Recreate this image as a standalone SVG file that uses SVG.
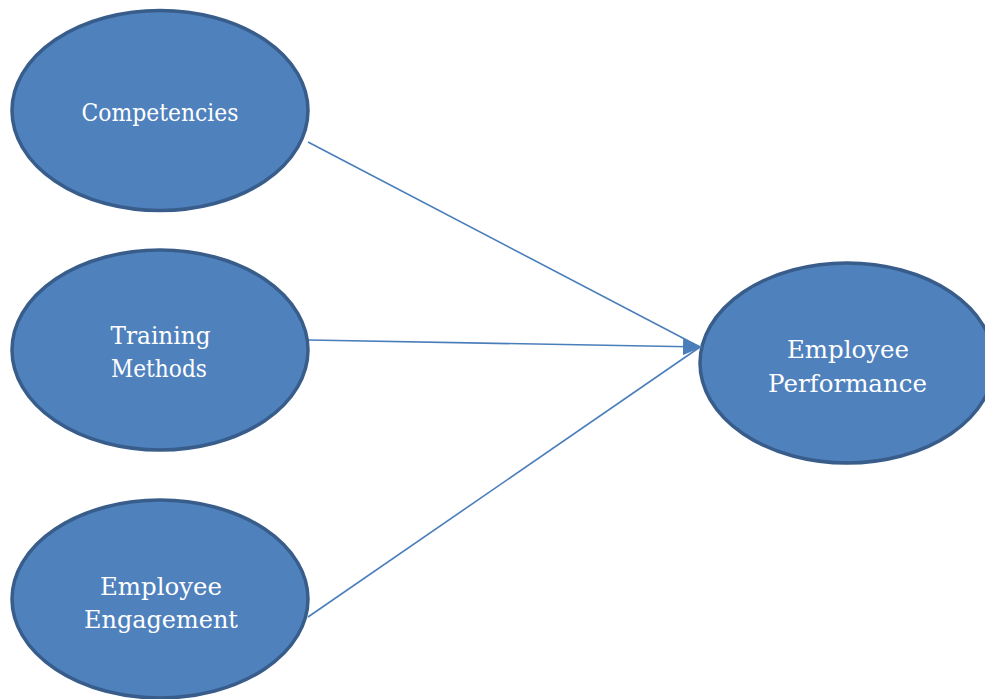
<svg xmlns="http://www.w3.org/2000/svg" width="985" height="699" viewBox="0 0 985 699">
  <style>
    .node { fill: #4f81bd; stroke: #385d8a; stroke-width: 3.5; }
    .label { fill: #ffffff; font-family: "DejaVu Serif", "Liberation Serif", serif; font-size: 25px; text-anchor: middle; }
    .link { stroke: #4a7ebb; stroke-width: 1.6; fill: none; }
  </style>
  <defs>
    <marker id="arrow" markerWidth="19" markerHeight="17" refX="19" refY="8.5" orient="auto" markerUnits="userSpaceOnUse">
      <path d="M0,0 L19,8.5 L0,17 Z" fill="#4a7ebb"/>
    </marker>
  </defs>
  <rect width="985" height="699" fill="#ffffff"/>

  <g id="competencies">
    <ellipse class="node" cx="160" cy="110.5" rx="148" ry="100"/>
    <text class="label" x="160" y="121" textLength="157" lengthAdjust="spacingAndGlyphs">Competencies</text>
  </g>

  <g id="training-methods">
    <ellipse class="node" cx="160" cy="350" rx="148" ry="100"/>
    <text class="label" x="160.5" y="344" textLength="100" lengthAdjust="spacingAndGlyphs">Training</text>
    <text class="label" x="159" y="377" textLength="96" lengthAdjust="spacingAndGlyphs">Methods</text>
  </g>

  <g id="employee-engagement">
    <ellipse class="node" cx="160" cy="599" rx="148" ry="99"/>
    <text class="label" x="161" y="595" textLength="122" lengthAdjust="spacingAndGlyphs">Employee</text>
    <text class="label" x="161" y="628" textLength="154" lengthAdjust="spacingAndGlyphs">Engagement</text>
  </g>

  <g id="employee-performance">
    <ellipse class="node" cx="847" cy="363" rx="147" ry="100"/>
    <text class="label" x="848" y="358" textLength="122" lengthAdjust="spacingAndGlyphs">Employee</text>
    <text class="label" x="847.5" y="392" textLength="159" lengthAdjust="spacingAndGlyphs">Performance</text>
  </g>

  <g id="connectors">
    <line class="link" x1="308" y1="142" x2="700" y2="347"/>
    <line class="link" x1="308" y1="617" x2="700" y2="347"/>
    <line class="link" x1="309" y1="340" x2="702" y2="347" marker-end="url(#arrow)"/>
  </g>
</svg>
